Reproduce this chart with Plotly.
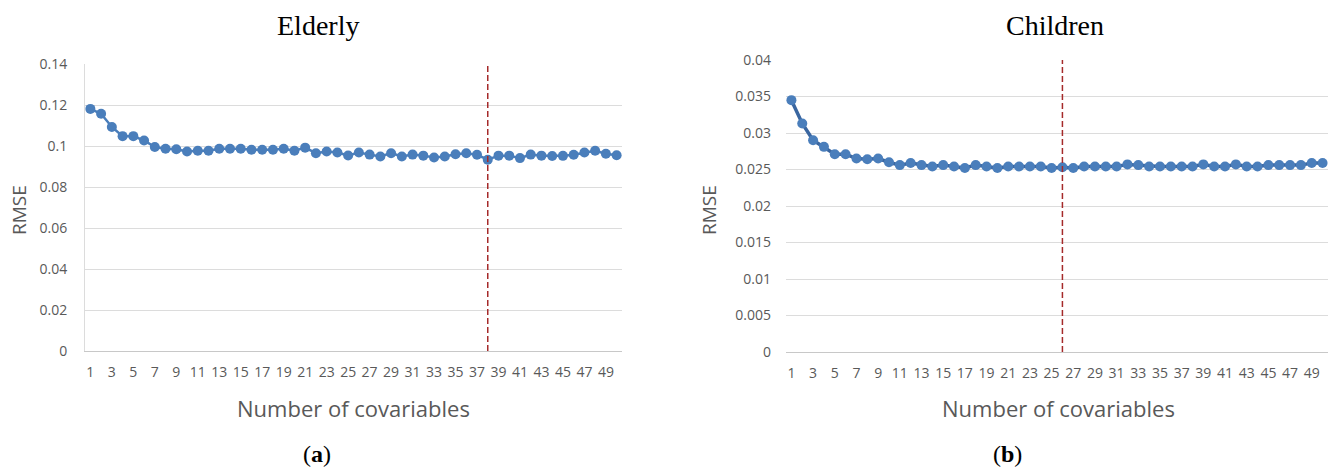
import plotly.graph_objects as go

covariables = list(range(1, 51))
elderly_rmse = [0.1181, 0.1157, 0.1093, 0.1048, 0.1048, 0.1027, 0.0995, 0.0987, 0.0984, 0.0973,
                0.0977, 0.0977, 0.0987, 0.0987, 0.0987, 0.0982, 0.0982, 0.0982, 0.0987, 0.0977,
                0.0992, 0.0965, 0.0973, 0.0968, 0.0954, 0.0968, 0.0958, 0.0949, 0.0965, 0.0949,
                0.0958, 0.0953, 0.0944, 0.0949, 0.0960, 0.0965, 0.0957, 0.0933, 0.0953, 0.0953,
                0.0941, 0.0958, 0.0953, 0.0951, 0.0952, 0.0957, 0.0968, 0.0977, 0.0962, 0.0955]
children_rmse = [0.0345, 0.0313, 0.0290, 0.0281, 0.0271, 0.0271, 0.0265, 0.0264, 0.0265, 0.0260,
                 0.0256, 0.0259, 0.0256, 0.0254, 0.0256, 0.0254, 0.0252, 0.0256, 0.0254, 0.0252,
                 0.0254, 0.0254, 0.0254, 0.0254, 0.0252, 0.0253, 0.0252, 0.0254, 0.0254, 0.0254,
                 0.0254, 0.0257, 0.0256, 0.0254, 0.0254, 0.0254, 0.0254, 0.0254, 0.0257, 0.0254,
                 0.0254, 0.0257, 0.0254, 0.0254, 0.0256, 0.0256, 0.0256, 0.0256, 0.0259, 0.0259]
elderly_best = 38
children_best = 26
x_ticks = list(range(1, 50, 2))
elderly_yticks = [0, 0.02, 0.04, 0.06, 0.08, 0.1, 0.12, 0.14]
elderly_ytext = ["0", "0.02", "0.04", "0.06", "0.08", "0.1", "0.12", "0.14"]
children_yticks = [0, 0.005, 0.01, 0.015, 0.02, 0.025, 0.03, 0.035, 0.04]
children_ytext = ["0", "0.005", "0.01", "0.015", "0.02", "0.025", "0.03", "0.035", "0.04"]

W, H = 1330, 468
gray = "#595959"
tick_font = dict(family="Open Sans", size=14, color=gray)

fig = go.Figure()
fig.add_trace(go.Scatter(x=covariables, y=elderly_rmse, mode="lines+markers",
                         line=dict(color="#4a7ebb", width=2.5),
                         marker=dict(color="#4a7ebb", size=10), xaxis="x", yaxis="y",
                         showlegend=False))
fig.add_trace(go.Scatter(x=covariables, y=children_rmse, mode="lines+markers",
                         line=dict(color="#3a66a0", width=3.5),
                         marker=dict(color="#4a7ebb", size=10), xaxis="x2", yaxis="y2",
                         showlegend=False))

ax_common = dict(range=[0.5, 50.5], tickmode="array", tickvals=x_ticks,
                 ticktext=[str(v) for v in x_ticks], showgrid=False, zeroline=False,
                 showline=True, linecolor="#c8c8c8", linewidth=1, tickfont=tick_font,
                 ticks="", ticklabelstandoff=8)
fig.update_layout(
    width=W, height=H, margin=dict(l=0, r=0, t=0, b=0, autoexpand=False),
    plot_bgcolor="white", paper_bgcolor="white",
    xaxis=dict(domain=[85 / W, 622 / W], anchor="y", **ax_common),
    yaxis=dict(domain=[(H - 351) / H, (H - 64) / H], anchor="x", range=[0, 0.14],
               tickmode="array", tickvals=elderly_yticks, ticktext=elderly_ytext,
               showgrid=True, gridcolor="#dcdcdc", gridwidth=1, zeroline=False,
               showline=True, linecolor="#dcdcdc", tickfont=tick_font, ticks="",
               ticklabelstandoff=14),
    xaxis2=dict(domain=[786 / W, 1328 / W], anchor="y2", **ax_common),
    yaxis2=dict(domain=[(H - 352) / H, (H - 60) / H], anchor="x2", range=[0, 0.04],
                tickmode="array", tickvals=children_yticks, ticktext=children_ytext,
                showgrid=True, gridcolor="#dcdcdc", gridwidth=1, zeroline=False,
                showline=False, tickfont=tick_font, ticks="", ticklabelstandoff=14),
)

fig.add_shape(type="line", xref="x", yref="y domain", x0=elderly_best, x1=elderly_best,
              y0=0, y1=1, line=dict(color="#a52a2a", width=1.5, dash="6px,3px"))
fig.add_shape(type="line", xref="x2", yref="y2 domain", x0=children_best, x1=children_best,
              y0=0, y1=1, line=dict(color="#a52a2a", width=1.5, dash="6px,3px"))

serif = "Liberation Serif"
anns = [
    dict(text="Elderly", x=318, y=25, font=dict(family=serif, size=28, color="black")),
    dict(text="Children", x=1055, y=25, font=dict(family=serif, size=28, color="black")),
    dict(text="Number of covariables", x=353, y=408, font=dict(family="Open Sans", size=22, color=gray)),
    dict(text="Number of covariables", x=1058, y=408, font=dict(family="Open Sans", size=22, color=gray)),
    dict(text="RMSE", x=19, y=210, textangle=-90, font=dict(family="Open Sans", size=19, color=gray)),
    dict(text="RMSE", x=709, y=210, textangle=-90, font=dict(family="Open Sans", size=19, color=gray)),
    dict(text="(<b>a</b>)", x=317, y=454, font=dict(family=serif, size=24, color="black")),
    dict(text="(<b>b</b>)", x=1007, y=454, font=dict(family=serif, size=24, color="black")),
]
for a in anns:
    fig.add_annotation(text=a["text"], x=a["x"] / W, y=1 - a["y"] / H, xref="paper", yref="paper",
                       showarrow=False, xanchor="center", yanchor="middle",
                       textangle=a.get("textangle", 0), font=a["font"])

fig.write_html("out.html", config={"displayModeBar": False},
               post_script="document.body.style.margin='0px';document.body.style.overflow='hidden';")
